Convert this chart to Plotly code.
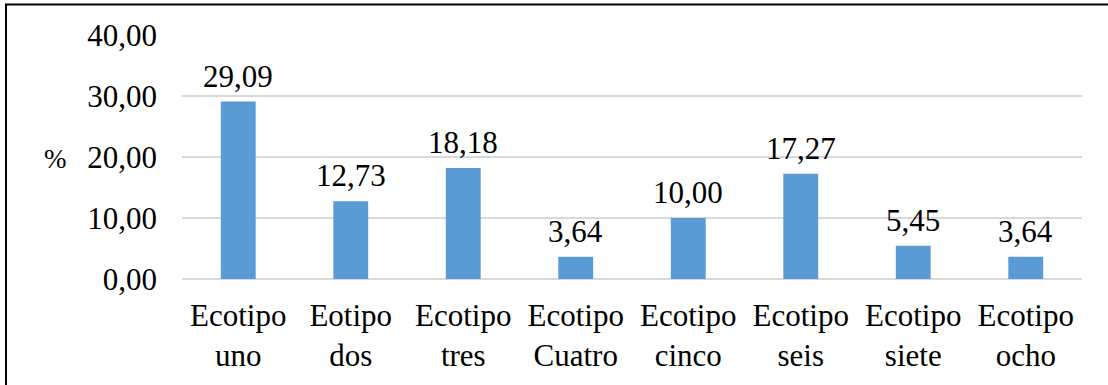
import plotly.graph_objects as go

# Porcentaje de individuos por ecotipo
categorias = ["Ecotipo<br>uno", "Eotipo<br>dos", "Ecotipo<br>tres", "Ecotipo<br>Cuatro",
              "Ecotipo<br>cinco", "Ecotipo<br>seis", "Ecotipo<br>siete", "Ecotipo<br>ocho"]
porcentajes = [29.09, 12.73, 18.18, 3.64, 10.00, 17.27, 5.45, 3.64]
ticks_y = [0, 10, 20, 30, 40]

FONT = "Liberation Serif, Times New Roman, serif"
SIZE = 31

fig = go.Figure(go.Bar(
    x=categorias,
    y=porcentajes,
    marker=dict(color="#5B9BD5", line=dict(width=0)),
    width=0.31,
    cliponaxis=False,
))

ml, mr, mt, mb = 182, 26, 35, 106
W, H = 1108, 385
pw, ph = W - ml - mr, H - mt - mb

def px_to_paper_x(px):
    return (px - ml) / pw

def px_to_paper_y(py):
    return (H - mb - py) / ph

# etiquetas de valor sobre cada barra
etiquetas = [
    dict(x=c, y=v, text=f"{v:.2f}".replace(".", ","), xref="x", yref="y",
         xanchor="center", yanchor="bottom", yshift=6, showarrow=False,
         font=dict(family=FONT, size=SIZE, color="black"))
    for c, v in zip(categorias, porcentajes)
]

fig.update_layout(
    width=W, height=H,
    margin=dict(l=ml, r=mr, t=mt, b=mb),
    paper_bgcolor="white", plot_bgcolor="white",
    separators=",.",
    showlegend=False,
    font=dict(family=FONT, size=SIZE, color="black"),
    xaxis=dict(
        showgrid=False, showline=False, zeroline=False, ticks="",
        ticklabelstandoff=15, tickangle=0,
        tickfont=dict(family=FONT, size=SIZE, color="black"),
    ),
    yaxis=dict(
        range=[0, 40], tickvals=ticks_y, tickformat=".2f",
        showgrid=True, gridcolor="#D9D9D9", gridwidth=1.5,
        zeroline=True, zerolinecolor="#D9D9D9", zerolinewidth=1.5,
        showline=False, ticks="", ticklabelstandoff=24,
        tickfont=dict(family=FONT, size=SIZE, color="black"),
    ),
    annotations=etiquetas + [dict(
        text="%", xref="paper", yref="paper",
        x=px_to_paper_x(55), y=0.49, xanchor="center", yanchor="middle",
        showarrow=False, font=dict(family=FONT, size=27, color="black"),
    )],
    shapes=[
        # marco exterior del gráfico
        dict(type="line", xref="paper", yref="paper",
             x0=px_to_paper_x(6), x1=px_to_paper_x(6),
             y0=px_to_paper_y(4.5), y1=px_to_paper_y(H + 5),
             line=dict(color="black", width=2)),
        dict(type="line", xref="paper", yref="paper",
             x0=px_to_paper_x(5), x1=px_to_paper_x(W + 5),
             y0=px_to_paper_y(4.5), y1=px_to_paper_y(4.5),
             line=dict(color="black", width=2)),
    ],
)

fig.write_html("out.html")
